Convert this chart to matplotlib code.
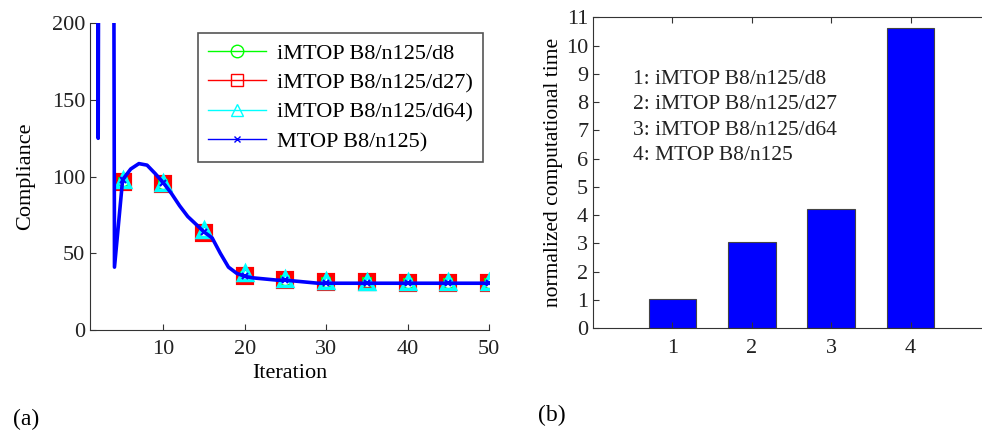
import numpy as np
import matplotlib.pyplot as plt
from matplotlib.lines import Line2D

plt.rcParams['font.family'] = ['Liberation Serif', 'DejaVu Serif']
plt.rcParams['font.size'] = 16

# MTOP compliance history (iterations 1..50)
iteracion = np.arange(1, 51)
complianceMTOP = [1800, 125, 2500, 41, 98, 105, 108.5, 107.5, 102, 96,
                  89, 81, 74, 69, 64, 60, 50, 41, 37, 35,
                  34, 33.5, 33, 32.5, 32.5, 32, 31.5, 31, 30.5, 30.5,
                  30.5, 30.5, 30.5, 30.5, 30.5, 30.5, 30.5, 30.5, 30.5, 30.5,
                  30.5, 30.5, 30.5, 30.5, 30.5, 30.5, 30.5, 30.5, 30.5, 30.5]

# iMTOP values at every 5 iterations
iterMarcas = np.arange(5, 51, 5)
complianceD8 = [97, 95, 64, 36, 32.5, 31.5, 31, 30.7, 30.7, 30.7]
complianceD27 = [96.5, 95, 63.5, 35.5, 32.5, 31.5, 31, 30.5, 30.5, 30.5]
complianceD64 = [98, 96, 65, 37, 33, 32, 31.5, 31, 31, 31]

etiquetasLeyenda = ['iMTOP B8/n125/d8', 'iMTOP B8/n125/d27)',
                    'iMTOP B8/n125/d64)', 'MTOP B8/n125)']

# normalized computational time
casos = [1, 2, 3, 4]
tiempoNorm = [1.02, 3.05, 4.22, 10.63]
textoCasos = ['1: iMTOP B8/n125/d8', '2: iMTOP B8/n125/d27',
              '3: iMTOP B8/n125/d64', '4: MTOP B8/n125']

fig = plt.figure(figsize=(9.82, 4.32), dpi=100)

# ----- (a) compliance
ax1 = fig.add_axes([0.0917, 0.2361, 0.4063, 0.710])
ax1.plot(iterMarcas, complianceD8, linestyle='none', marker='o', color='#00ff00',
         markerfacecolor='none', markersize=9, markeredgewidth=2.5)
ax1.plot(iterMarcas, complianceD27, linestyle='none', marker='s', color='#ff0000',
         markerfacecolor='none', markersize=10, markeredgewidth=3)
ax1.plot(iterMarcas, complianceD64, linestyle='none', marker='^', color='#00ffff',
         markerfacecolor='none', markersize=10, markeredgewidth=2.5)
ax1.plot(iteracion, complianceMTOP, color='#0000ff', linewidth=2.6)
ax1.plot(iterMarcas, [complianceMTOP[i - 1] for i in iterMarcas], linestyle='none',
         marker='x', color='#0000ff', markersize=5, markeredgewidth=1.5)

ax1.set_xlim(1, 50)
ax1.set_ylim(0, 200)
ax1.set_xticks([10, 20, 30, 40, 50])
ax1.set_yticks([0, 50, 100, 150, 200])
ax1.spines['top'].set_visible(False)
ax1.spines['right'].set_visible(False)
for s in ['left', 'bottom']:
    ax1.spines[s].set_color('#333333')
ax1.tick_params(direction='in', length=4, colors='#333333', labelcolor='#222222')
ax1.tick_params(axis='x', pad=7)
ax1.set_xlabel('Iteration', labelpad=4)
ax1.set_ylabel('Compliance', labelpad=12)

handles = [
    Line2D([], [], color='#00ff00', marker='o', markerfacecolor='none', markersize=9, lw=1),
    Line2D([], [], color='#ff0000', marker='s', markerfacecolor='none', markersize=9, lw=1),
    Line2D([], [], color='#00ffff', marker='^', markerfacecolor='none', markersize=9, lw=1),
    Line2D([], [], color='#0000ff', marker='x', markersize=4, lw=1),
]
leg = ax1.legend(handles, etiquetasLeyenda, loc='upper right', fontsize=16,
                 bbox_to_anchor=(0.985, 0.968), borderaxespad=0, fancybox=False,
                 framealpha=1, handlelength=2.6, handletextpad=0.5, borderpad=0.45,
                 labelspacing=0.4)
leg.get_frame().set_edgecolor('#555555')
leg.get_frame().set_linewidth(1.2)

fig.text(0.013, 0.015, '(a)', fontsize=17)

# ----- (b) computational time
ax2 = fig.add_axes([0.6039, 0.240, 0.4043, 0.720])
ax2.bar(casos, tiempoNorm, width=0.6, color='#0000ff', edgecolor='#444444', linewidth=0.8)
ax2.set_xlim(0, 5)
ax2.set_ylim(0, 11)
ax2.set_xticks(casos)
ax2.set_yticks(range(0, 12))
ax2.tick_params(direction='in', length=4, top=True, colors='#333333', labelcolor='#222222')
ax2.tick_params(axis='x', pad=8)
for s in ax2.spines.values():
    s.set_color('#333333')
ax2.set_ylabel('normalized computational time', fontsize=15.5, labelpad=2)
for i, t in enumerate(textoCasos):
    ax2.text(0.5, 8.8 - i * 0.9, t, fontsize=15.5, va='center', color='#222222')

fig.text(0.548, 0.025, '(b)', fontsize=17)

fig.savefig('out.png', dpi=100)
